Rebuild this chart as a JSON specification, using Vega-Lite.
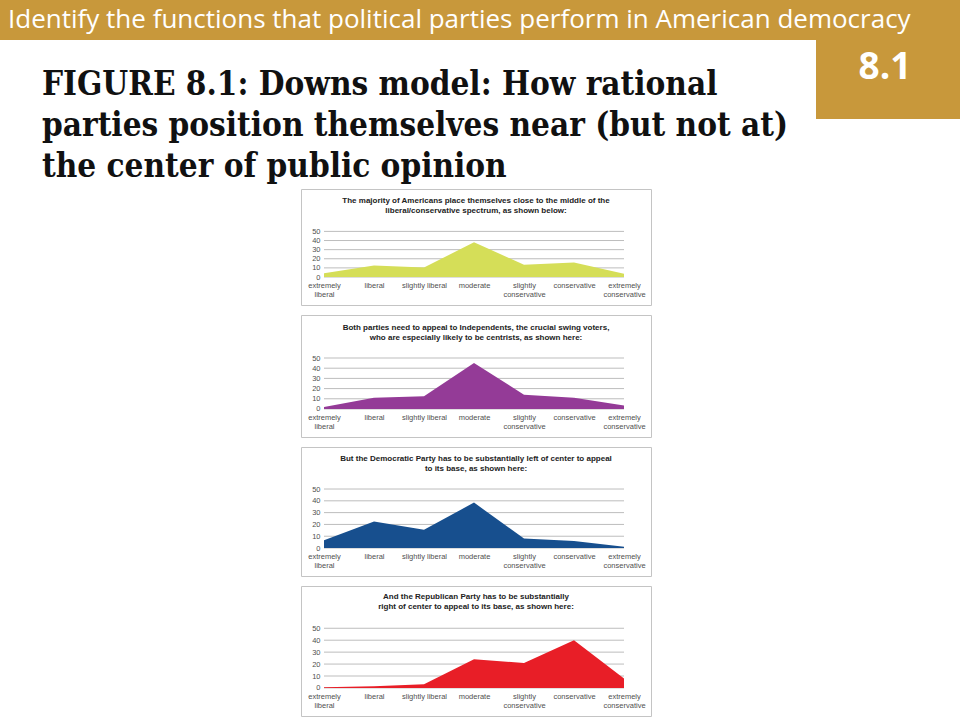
{
  "$schema": "https://vega.github.io/schema/vega-lite/v6.json",
  "padding": 0,
  "background": "white",
  "spacing": 0,
  "config": {
    "view": {"stroke": null},
    "font": "Liberation Sans",
    "concat": {"spacing": 0},
    "axisX": {"title": null, "offset": -28, "domain": false, "ticks": false, "grid": false, "labelPadding": 4, "labelFontSize": 7.5, "labelColor": "#505050", "labelAngle": 0, "labelLineHeight": 9, "labelOverlap": false, "labelBound": false},
    "axisY": {"title": null, "offset": -23, "domain": false, "ticks": false, "grid": false, "labelPadding": 4, "labelFontSize": 7.5, "labelColor": "#505050"}
  },
  "datasets": {
    "grid": [{"v": 0}, {"v": 10}, {"v": 20}, {"v": 30}, {"v": 40}, {"v": 50}],
    "all_americans": [
      {"category": "extremely liberal", "pct": 4},
      {"category": "liberal", "pct": 12.5},
      {"category": "slightly liberal", "pct": 10.5},
      {"category": "moderate", "pct": 38},
      {"category": "slightly conservative", "pct": 13.5},
      {"category": "conservative", "pct": 16},
      {"category": "extremely conservative", "pct": 3.5}
    ],
    "independents": [
      {"category": "extremely liberal", "pct": 2},
      {"category": "liberal", "pct": 11},
      {"category": "slightly liberal", "pct": 12.5},
      {"category": "moderate", "pct": 45},
      {"category": "slightly conservative", "pct": 14},
      {"category": "conservative", "pct": 11},
      {"category": "extremely conservative", "pct": 3.5}
    ],
    "democrats": [
      {"category": "extremely liberal", "pct": 6.5},
      {"category": "liberal", "pct": 22.5},
      {"category": "slightly liberal", "pct": 15.5},
      {"category": "moderate", "pct": 38.5},
      {"category": "slightly conservative", "pct": 8},
      {"category": "conservative", "pct": 6},
      {"category": "extremely conservative", "pct": 1}
    ],
    "republicans": [
      {"category": "extremely liberal", "pct": 0.5},
      {"category": "liberal", "pct": 1.5},
      {"category": "slightly liberal", "pct": 3},
      {"category": "moderate", "pct": 24},
      {"category": "slightly conservative", "pct": 21},
      {"category": "conservative", "pct": 40},
      {"category": "extremely conservative", "pct": 8}
    ]
  },
  "vconcat": [
    {
      "width": 960,
      "height": 40,
      "view": {"fill": "#c8983b", "stroke": null},
      "title": {
        "text": "Identify the functions that political parties perform in American democracy",
        "anchor": "start",
        "frame": "group",
        "offset": -33,
        "dx": 8,
        "font": "Open Sans",
        "fontSize": 26,
        "fontWeight": "normal",
        "color": "white"
      },
      "data": {"values": []},
      "mark": "text"
    },
    {
      "hconcat": [
        {
          "width": 816,
          "height": 148,
          "title": {
            "text": [
              "FIGURE 8.1: Downs model: How rational",
              "parties position themselves near (but not at)",
              "the center of public opinion"
            ],
            "anchor": "start",
            "frame": "group",
            "offset": -144,
            "dx": 42,
            "font": "DejaVu Serif Condensed, DejaVu Serif",
            "fontSize": 33,
            "lineHeight": 41,
            "fontWeight": "bold",
            "color": "#111111"
          },
          "data": {"values": []},
          "mark": "text"
        },
        {
          "width": 144,
          "height": 79,
          "view": {"fill": "#c8983b", "stroke": null},
          "data": {"values": [{"label": "8.1"}]},
          "mark": {"type": "text", "font": "Open Sans", "fontSize": 37, "fontWeight": "bold", "color": "white", "dy": -12, "dx": -3},
          "encoding": {"text": {"field": "label"}}
        }
      ]
    },
    {
      "hconcat": [
        {
          "width": 300,
          "height": 10,
          "data": {"values": []},
          "mark": "text"
        },
        {
          "spacing": 8,
          "vconcat": [
            {
              "width": 350,
              "height": 116,
              "view": {"stroke": "#c4c4c4", "fill": "white"},
              "title": {
                "text": ["The majority of Americans place themselves close to the middle of the", "liberal/conservative spectrum, as shown below:"],
                "anchor": "middle", "frame": "group", "offset": -26,
                "fontSize": 8, "lineHeight": 10, "fontWeight": "bold", "color": "#222222"
              },
              "layer": [
                {
                  "data": {"name": "grid"},
                  "mark": {"type": "rule", "color": "#bdbdbd", "strokeWidth": 1},
                  "encoding": {
                    "x": {"datum": "extremely liberal", "type": "ordinal", "scale": {"type": "point", "domain": ["extremely liberal", "liberal", "slightly liberal", "moderate", "slightly conservative", "conservative", "extremely conservative"], "padding": 0.5, "align": 0.46},
                      "axis": {"labelExpr": "datum.value == 'slightly liberal' ? datum.value : split(datum.value, ' ')"}},
                    "x2": {"datum": "extremely conservative"},
                    "y": {"field": "v", "type": "quantitative", "scale": {"domain": [-30.7, 96.5], "nice": false, "zero": false},
                      "axis": {"values": [0, 10, 20, 30, 40, 50]}}
                  }
                },
                {
                  "data": {"name": "all_americans"},
                  "mark": {"type": "area", "color": "#d5de58", "opacity": 1},
                  "encoding": {
                    "x": {"field": "category", "type": "ordinal", "sort": null,
                      "scale": {"type": "point", "domain": ["extremely liberal", "liberal", "slightly liberal", "moderate", "slightly conservative", "conservative", "extremely conservative"], "padding": 0.5, "align": 0.46},
                      "axis": {"labelExpr": "datum.value == 'slightly liberal' ? datum.value : split(datum.value, ' ')"}},
                    "y": {"field": "pct", "type": "quantitative",
                      "scale": {"domain": [-30.7, 96.5], "nice": false, "zero": false},
                      "axis": {"values": [0, 10, 20, 30, 40, 50]}},
                    "y2": {"datum": 0}
                  }
                }
              ]
            },
            {
              "width": 350,
              "height": 122,
              "view": {"stroke": "#c4c4c4", "fill": "white"},
              "title": {
                "text": ["Both parties need to appeal to Independents, the crucial swing voters,", "who are especially likely to be centrists, as shown here:"],
                "anchor": "middle", "frame": "group", "offset": -27,
                "fontSize": 8, "lineHeight": 10, "fontWeight": "bold", "color": "#222222"
              },
              "layer": [
                {
                  "data": {"name": "grid"},
                  "mark": {"type": "rule", "color": "#bdbdbd", "strokeWidth": 1},
                  "encoding": {
                    "x": {"datum": "extremely liberal", "type": "ordinal", "scale": {"type": "point", "domain": ["extremely liberal", "liberal", "slightly liberal", "moderate", "slightly conservative", "conservative", "extremely conservative"], "padding": 0.5, "align": 0.46},
                      "axis": {"labelExpr": "datum.value == 'slightly liberal' ? datum.value : split(datum.value, ' ')"}},
                    "x2": {"datum": "extremely conservative"},
                    "y": {"field": "v", "type": "quantitative", "scale": {"domain": [-27.5, 92.2], "nice": false, "zero": false},
                      "axis": {"values": [0, 10, 20, 30, 40, 50]}}
                  }
                },
                {
                  "data": {"name": "independents"},
                  "mark": {"type": "area", "color": "#943b97", "opacity": 1},
                  "encoding": {
                    "x": {"field": "category", "type": "ordinal", "sort": null,
                      "scale": {"type": "point", "domain": ["extremely liberal", "liberal", "slightly liberal", "moderate", "slightly conservative", "conservative", "extremely conservative"], "padding": 0.5, "align": 0.46},
                      "axis": {"labelExpr": "datum.value == 'slightly liberal' ? datum.value : split(datum.value, ' ')"}},
                    "y": {"field": "pct", "type": "quantitative",
                      "scale": {"domain": [-27.5, 92.2], "nice": false, "zero": false},
                      "axis": {"values": [0, 10, 20, 30, 40, 50]}},
                    "y2": {"datum": 0}
                  }
                }
              ]
            },
            {
              "width": 350,
              "height": 129,
              "view": {"stroke": "#c4c4c4", "fill": "white"},
              "title": {
                "text": ["But the Democratic Party has to be substantially left of center to appeal", "to its base, as shown here:"],
                "anchor": "middle", "frame": "group", "offset": -26,
                "fontSize": 8, "lineHeight": 10, "fontWeight": "bold", "color": "#222222"
              },
              "layer": [
                {
                  "data": {"name": "grid"},
                  "mark": {"type": "rule", "color": "#bdbdbd", "strokeWidth": 1},
                  "encoding": {
                    "x": {"datum": "extremely liberal", "type": "ordinal", "scale": {"type": "point", "domain": ["extremely liberal", "liberal", "slightly liberal", "moderate", "slightly conservative", "conservative", "extremely conservative"], "padding": 0.5, "align": 0.46},
                      "axis": {"labelExpr": "datum.value == 'slightly liberal' ? datum.value : split(datum.value, ' ')"}},
                    "x2": {"datum": "extremely conservative"},
                    "y": {"field": "v", "type": "quantitative", "scale": {"domain": [-23.7, 85.6], "nice": false, "zero": false},
                      "axis": {"values": [0, 10, 20, 30, 40, 50]}}
                  }
                },
                {
                  "data": {"name": "democrats"},
                  "mark": {"type": "area", "color": "#174f8e", "opacity": 1},
                  "encoding": {
                    "x": {"field": "category", "type": "ordinal", "sort": null,
                      "scale": {"type": "point", "domain": ["extremely liberal", "liberal", "slightly liberal", "moderate", "slightly conservative", "conservative", "extremely conservative"], "padding": 0.5, "align": 0.46},
                      "axis": {"labelExpr": "datum.value == 'slightly liberal' ? datum.value : split(datum.value, ' ')"}},
                    "y": {"field": "pct", "type": "quantitative",
                      "scale": {"domain": [-23.7, 85.6], "nice": false, "zero": false},
                      "axis": {"values": [0, 10, 20, 30, 40, 50]}},
                    "y2": {"datum": 0}
                  }
                }
              ]
            },
            {
              "width": 350,
              "height": 130,
              "view": {"stroke": "#c4c4c4", "fill": "white"},
              "title": {
                "text": ["And the Republican Party has to be substantially", "right of center to appeal to its base, as shown here:"],
                "anchor": "middle", "frame": "group", "offset": -25,
                "fontSize": 8, "lineHeight": 10, "fontWeight": "bold", "color": "#222222"
              },
              "layer": [
                {
                  "data": {"name": "grid"},
                  "mark": {"type": "rule", "color": "#bdbdbd", "strokeWidth": 1},
                  "encoding": {
                    "x": {"datum": "extremely liberal", "type": "ordinal", "scale": {"type": "point", "domain": ["extremely liberal", "liberal", "slightly liberal", "moderate", "slightly conservative", "conservative", "extremely conservative"], "padding": 0.5, "align": 0.46},
                      "axis": {"labelExpr": "datum.value == 'slightly liberal' ? datum.value : split(datum.value, ' ')"}},
                    "x2": {"datum": "extremely conservative"},
                    "y": {"field": "v", "type": "quantitative", "scale": {"domain": [-23.5, 85.4], "nice": false, "zero": false},
                      "axis": {"values": [0, 10, 20, 30, 40, 50]}}
                  }
                },
                {
                  "data": {"name": "republicans"},
                  "mark": {"type": "area", "color": "#e81e27", "opacity": 1},
                  "encoding": {
                    "x": {"field": "category", "type": "ordinal", "sort": null,
                      "scale": {"type": "point", "domain": ["extremely liberal", "liberal", "slightly liberal", "moderate", "slightly conservative", "conservative", "extremely conservative"], "padding": 0.5, "align": 0.46},
                      "axis": {"labelExpr": "datum.value == 'slightly liberal' ? datum.value : split(datum.value, ' ')"}},
                    "y": {"field": "pct", "type": "quantitative",
                      "scale": {"domain": [-23.5, 85.4], "nice": false, "zero": false},
                      "axis": {"values": [0, 10, 20, 30, 40, 50]}},
                    "y2": {"datum": 0}
                  }
                }
              ]
            }
          ]
        }
      ]
    }
  ]
}
